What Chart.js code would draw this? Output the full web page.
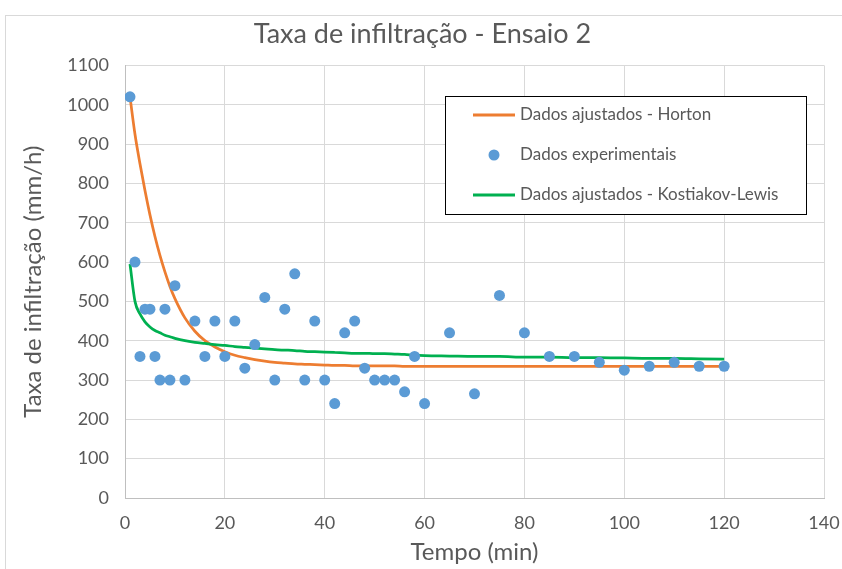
<html>
  <head>
    <style>
body {
  margin: 0;
  background: #fff;
}

#wrap {
  position: relative;
  width: 842px;
  height: 569px;
  overflow: hidden;
}

#frame {
  position: absolute;
  left: 5px;
  top: 15px;
  width: 900px;
  height: 700px;
  border: 1px solid #d9d9d9;
}

#chart {
  position: absolute;
  left: 0;
  top: 0;
}
    </style>
  </head>
  <body>
    <div id="wrap">
      <div id="frame"></div>
      <canvas id="chart" width="842" height="569"></canvas>
    </div>
    <script src="https://cdn.jsdelivr.net/npm/chart.js"></script>
    <script>

// tempo (min) of each reading
const tempos = [1, 2, 3, 4, 5, 6, 7, 8, 9, 10, 12, 14, 16, 18, 20, 22, 24, 26, 28, 30,
  32, 34, 36, 38, 40, 42, 44, 46, 48, 50, 52, 54, 56, 58, 60, 65, 70, 75, 80, 85,
  90, 95, 100, 105, 110, 115, 120]

// measured infiltration rate (mm/h)
const experimentais = [1020, 600, 360, 480, 480, 360, 300, 480, 300, 540, 300, 450, 360, 450, 360, 450, 330, 390, 510, 300,
  480, 570, 300, 450, 300, 240, 420, 450, 330, 300, 300, 300, 270, 360, 240, 420, 265, 515, 420, 360,
  360, 345, 325, 335, 345, 335, 335]

// fitted curves, same times
const horton = [1020, 925, 850, 782, 720, 665, 617, 575, 538, 507, 458, 424, 400, 384, 372, 363, 357, 352, 348, 345,
  343, 341, 340, 339, 338, 337, 337, 336, 336, 336, 336, 336, 335, 335, 335, 335, 335, 335, 335, 335,
  335, 335, 335, 335, 335, 335, 335]

const kostiakov = [595, 500, 468, 448, 435, 426, 420, 414, 410, 406, 400, 396, 393, 390, 388, 385, 383, 381, 379, 377,
  376, 375, 373, 372, 371, 370, 369, 368, 368, 367, 367, 366, 365, 363, 362, 361, 360, 360, 358, 358,
  357, 357, 356, 355, 355, 354, 353]

const xTicks = [0, 20, 40, 60, 80, 100, 120, 140]
const yTicks = [0, 100, 200, 300, 400, 500, 600, 700, 800, 900, 1000, 1100]

const textColor = '#595959'
const gridColor = '#d9d9d9'
const axisColor = '#bfbfbf'
const fontFamily = 'Lato, "Open Sans", sans-serif'

function pts(values) {
  return tempos.map((t, i) => ({ x: t, y: values[i] }))
}

const legendBox = {
  id: 'legendBox',
  afterDraw(chart) {
    const ctx = chart.ctx
    const x0 = 445, y0 = 96, w = 361, h = 118
    ctx.save()
    ctx.fillStyle = '#fff'
    ctx.fillRect(x0, y0, w, h)
    ctx.strokeStyle = '#000'
    ctx.lineWidth = 1
    ctx.strokeRect(x0 + 0.5, y0 + 0.5, w, h)
    ctx.font = '17px ' + fontFamily
    ctx.textBaseline = 'middle'
    const rows = [0, 1, 2]
    rows.forEach(i => {
      const ds = chart.data.datasets[i]
      const cy = 115 + i * 40
      if (ds.showLine) {
        ctx.strokeStyle = ds.borderColor
        ctx.lineWidth = 3
        ctx.beginPath()
        ctx.moveTo(473, cy)
        ctx.lineTo(515, cy)
        ctx.stroke()
      } else {
        ctx.fillStyle = ds.backgroundColor
        ctx.beginPath()
        ctx.arc(494, cy, 5.5, 0, Math.PI * 2)
        ctx.fill()
      }
      ctx.fillStyle = textColor
      ctx.fillText(ds.label, 520, cy)
    })
    ctx.restore()
  }
}

new Chart(document.getElementById('chart'), {
  type: 'scatter',
  data: {
    datasets: [{
      label: 'Dados ajustados - Horton',
      data: pts(horton),
      showLine: true,
      borderColor: '#ed7d31',
      backgroundColor: '#ed7d31',
      borderWidth: 2.75,
      pointRadius: 0,
      cubicInterpolationMode: 'monotone',
      order: 2
    }, {
      label: 'Dados experimentais',
      data: pts(experimentais),
      showLine: false,
      backgroundColor: '#5b9bd5',
      borderColor: '#5b9bd5',
      pointRadius: 5.5,
      borderWidth: 0,
      order: 0
    }, {
      label: 'Dados ajustados - Kostiakov-Lewis',
      data: pts(kostiakov),
      showLine: true,
      borderColor: '#00b050',
      backgroundColor: '#00b050',
      borderWidth: 2.75,
      pointRadius: 0,
      cubicInterpolationMode: 'monotone',
      order: 1
    }]
  },
  options: {
    responsive: false,
    animation: false,
    devicePixelRatio: 1,
    layout: { padding: { left: 6, right: 3, top: 0, bottom: 0 } },
    plugins: {
      legend: { display: false },
      tooltip: { enabled: false },
      title: {
        display: true,
        text: 'Taxa de infiltração - Ensaio 2',
        color: textColor,
        font: { family: fontFamily, size: 27, weight: 'normal' },
        padding: { top: 18, bottom: 15 }
      }
    },
    scales: {
      x: {
        type: 'linear',
        min: 0,
        max: 140,
        afterBuildTicks(scale) { scale.ticks = xTicks.map(v => ({ value: v })) },
        afterFit(scale) {
          scale.height = 71
          scale.paddingLeft = 0
          scale.paddingRight = 18
        },
        ticks: {
          color: textColor,
          font: { family: fontFamily, size: 18 },
          padding: 14,
          callback: v => String(v)
        },
        grid: { color: gridColor, drawTicks: false },
        border: { color: axisColor },
        title: {
          display: true,
          text: 'Tempo (min)',
          color: textColor,
          font: { family: fontFamily, size: 24 },
          padding: { top: 0, bottom: 2 }
        }
      },
      y: {
        min: 0,
        max: 1100,
        afterBuildTicks(scale) { scale.ticks = yTicks.map(v => ({ value: v })) },
        afterFit(scale) { scale.width = 119 },
        ticks: {
          color: textColor,
          font: { family: fontFamily, size: 18 },
          padding: 16,
          callback: v => String(v)
        },
        grid: { color: gridColor, drawTicks: false },
        border: { color: axisColor },
        title: {
          display: true,
          text: 'Taxa de infiltração (mm/h)',
          color: textColor,
          font: { family: fontFamily, size: 24 },
          padding: { top: 13, bottom: 0 }
        }
      }
    }
  },
  plugins: [legendBox]
})
    </script>
  </body>
</html>
